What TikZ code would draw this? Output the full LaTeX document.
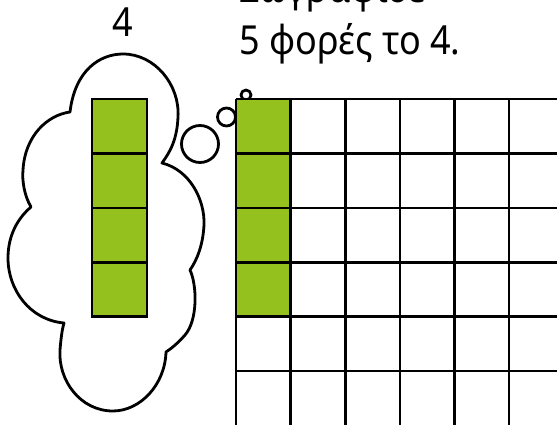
\documentclass[tikz,border=0pt]{standalone}
\usepackage{fontspec}
\setmainfont{Noto Sans}
\definecolor{leaf}{RGB}{149,193,31}
\begin{document}
\begin{tikzpicture}[x=1pt,y=-1pt,
  outline/.style={draw=black,line width=2.8pt,line join=round},
  gridline/.style={draw=black,line width=2.6pt},
  cell/.style={fill=leaf,draw=black,line width=2.6pt},
  bigtext/.style={font=\fontsize{40}{48}\selectfont,inner sep=0pt}]
\useasboundingbox (0,0) rectangle (557,425);
% cloud
\draw[outline,fill=white]
 (70,112) .. controls (75,70) and (100,54) .. (123,54)
 .. controls (155,54) and (180,85) .. (178,117)
 .. controls (177,140) and (170,152) .. (162,163)
 .. controls (190,170) and (205,200) .. (204,225)
 .. controls (203,245) and (197,260) .. (190,270)
 .. controls (197,285) and (198,320) .. (185,335)
 .. controls (178,343) and (172,348) .. (166,352)
 .. controls (165,385) and (140,411) .. (113,411)
 .. controls (80,411) and (58,380) .. (60,350)
 .. controls (61,338) and (62,330) .. (64,323)
 .. controls (30,320) and (8,290) .. (8,258)
 .. controls (8,235) and (18,218) .. (31,207)
 .. controls (24,195) and (22,180) .. (23,170)
 .. controls (25,135) and (48,115) .. (70,112) -- cycle;
% thought bubbles
\draw[outline,fill=white] (200,144) circle[radius=18.5];
\draw[outline,fill=white] (226.5,117) circle[radius=9];
\draw[outline,fill=white] (246,95) circle[radius=5];
% column in the cloud
\foreach \j in {0,1,2,3}
  \draw[cell] (92,{99+54.4*\j}) rectangle (147,{99+54.4*(\j+1)});
% grid
\foreach \j in {0,1,2,3}
  \fill[leaf] (236,{99+54.4*\j}) rectangle (290.6,{99+54.4*(\j+1)});
\foreach \i in {0,...,5}
  \draw[gridline] ({236+54.6*\i},99) -- ({236+54.6*\i},426);
\foreach \j in {0,...,5}
  \draw[gridline] (236,{99+54.4*\j}) -- (558,{99+54.4*\j});
% texts
\node[bigtext,anchor=base] (four) at (123,37) {\scalebox{0.9}[1]{4}};
\node[bigtext,anchor=base west] (line1) at (239,3) {\scalebox{0.9}[1]{Ζωγράφισε}};
\node[bigtext,anchor=base west] (line2) at (239,55) {\scalebox{0.9}[1]{5 φορές το 4.}};
\end{tikzpicture}
\end{document}
